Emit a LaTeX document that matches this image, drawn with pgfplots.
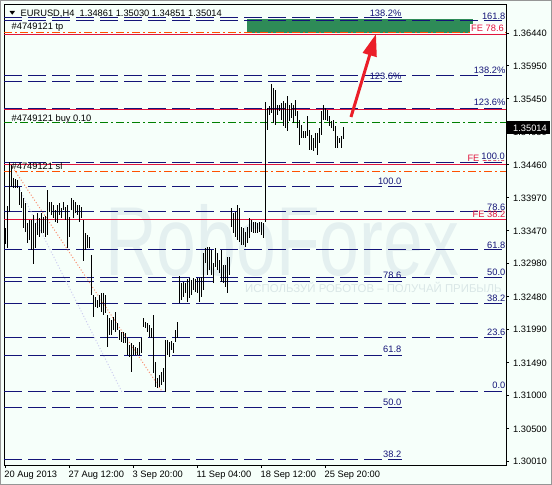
\documentclass[border=0pt]{standalone}
\usepackage{pgfplots}
\pgfplotsset{compat=1.18}
\usepackage{pgfplotstable}
\usepackage{fontspec}
\setmainfont{Liberation Sans}
\usetikzlibrary{arrows.meta}
\definecolor{bg}{RGB}{246,255,250}
\definecolor{fibnavy}{RGB}{20,20,120}
\definecolor{fered}{RGB}{225,20,60}
\definecolor{tporange}{RGB}{255,80,0}
\definecolor{buygreen}{RGB}{0,128,0}
\definecolor{boxgreen}{RGB}{46,139,87}
\definecolor{arrowred}{RGB}{235,30,40}
\definecolor{wm}{RGB}{228,240,240}
\definecolor{wmsub}{RGB}{218,231,231}
\definecolor{framegray}{RGB}{150,150,150}
\definecolor{salmonc}{RGB}{250,140,110}
\definecolor{lav}{RGB}{205,205,240}
\newcommand\f{\fontsize{9.3bp}{11bp}\selectfont}

\pgfplotstableread{
i lo hi
0 1.33265 1.33515
1 1.33205 1.33841
2 1.33755 1.34497
3 1.34131 1.34457
4 1.34116 1.34257
5 1.34107 1.34247
6 1.34107 1.34231
7 1.33856 1.34131
8 1.33806 1.34056
9 1.33515 1.33957
10 1.33446 1.33881
11 1.33280 1.33581
12 1.33330 1.33630
13 1.33180 1.33630
14 1.32965 1.33706
15 1.33205 1.33581
16 1.33405 1.33731
17 1.33380 1.33656
18 1.33431 1.33731
19 1.33431 1.33680
20 1.33380 1.33695
21 1.33405 1.34081
22 1.33755 1.33906
23 1.33706 1.33906
24 1.33656 1.33856
25 1.33605 1.33781
26 1.33581 1.33856
27 1.33706 1.33881
28 1.33665 1.33815
29 1.33781 1.33896
30 1.33630 1.33830
31 1.33205 1.33856
32 1.33380 1.33680
33 1.33781 1.33966
34 1.33656 1.33931
35 1.33731 1.33906
36 1.33706 1.33856
37 1.33605 1.33856
38 1.33656 1.33830
39 1.33015 1.33630
40 1.33180 1.33431
41 1.33214 1.33405
42 1.33205 1.33380
43 1.32504 1.33105
44 1.32178 1.32504
45 1.32328 1.32478
46 1.32304 1.32429
47 1.32328 1.32504
48 1.32253 1.32529
49 1.32203 1.32529
50 1.32229 1.32504
51 1.31727 1.32203
52 1.31903 1.32154
53 1.31903 1.32128
54 1.31978 1.32178
55 1.31953 1.32253
56 1.31978 1.32079
57 1.31828 1.31978
58 1.31802 1.31953
59 1.31778 1.31953
60 1.31778 1.31928
61 1.31602 1.31853
62 1.31577 1.31753
63 1.31352 1.31778
64 1.31602 1.31753
65 1.31602 1.31727
66 1.31602 1.31703
67 1.31602 1.31802
68 1.31628 1.31853
69 1.32028 1.32154
70 1.32004 1.32103
71 1.31953 1.32079
72 1.31877 1.32053
73 1.31853 1.32004
74 1.31328 1.32203
75 1.31126 1.31502
76 1.31102 1.31252
77 1.31126 1.31302
78 1.31152 1.31352
79 1.31201 1.31403
80 1.31051 1.31828
81 1.31602 1.31828
82 1.31577 1.31802
83 1.31678 1.31813
84 1.31628 1.31778
85 1.31798 1.31978
86 1.31858 1.32098
87 1.32384 1.32789
88 1.32429 1.32689
89 1.32478 1.32704
90 1.32529 1.32680
91 1.32403 1.32740
92 1.32454 1.32755
93 1.32504 1.32729
94 1.32579 1.32755
95 1.32553 1.32740
96 1.32529 1.32755
97 1.32403 1.32755
98 1.32478 1.32779
99 1.32579 1.33130
100 1.32980 1.33205
101 1.32804 1.33229
102 1.32879 1.33220
103 1.32804 1.33180
104 1.32680 1.32980
105 1.32929 1.33205
106 1.32879 1.33130
107 1.32830 1.33030
108 1.32704 1.33180
109 1.32680 1.32954
110 1.32629 1.32954
111 1.32529 1.33079
112 1.32804 1.33079
113 1.33530 1.33806
114 1.33431 1.33731
115 1.33380 1.33755
116 1.33330 1.33856
117 1.33305 1.33806
118 1.33255 1.33530
119 1.33255 1.33506
120 1.33230 1.33455
121 1.33280 1.33530
122 1.33356 1.33656
123 1.33455 1.33630
124 1.33431 1.33605
125 1.33431 1.33605
126 1.33431 1.33581
127 1.33455 1.33605
128 1.33405 1.33605
129 1.33356 1.33581
130 1.33600 1.35403
131 1.34987 1.35313
132 1.35213 1.35339
133 1.35238 1.35674
134 1.35088 1.35614
135 1.35062 1.35588
136 1.35213 1.35363
137 1.35264 1.35363
138 1.35137 1.35388
139 1.35038 1.35414
140 1.35013 1.35388
141 1.34963 1.35489
142 1.35113 1.35363
143 1.35163 1.35388
144 1.35088 1.35363
145 1.35188 1.35438
146 1.35013 1.35264
147 1.34762 1.35137
148 1.34862 1.35062
149 1.34862 1.34963
150 1.34862 1.34963
151 1.34888 1.35188
152 1.34687 1.34987
153 1.34687 1.34912
154 1.34663 1.34862
155 1.34712 1.34938
156 1.34612 1.34938
157 1.34787 1.35013
158 1.34912 1.35264
159 1.35137 1.35363
160 1.35137 1.35313
161 1.35113 1.35288
162 1.35038 1.35188
163 1.35013 1.35113
164 1.34963 1.35137
165 1.34712 1.35038
166 1.34712 1.34888
167 1.34787 1.34862
168 1.34712 1.34888
169 1.34851 1.35030
}\bars

\newcommand\hl[3]{\addplot[#1] coordinates {(-0.65,#2) (#3,#2)};}
\newcommand\rlab[4]{\node[anchor=base east, inner sep=0pt, text=#3, font=\f] at ({#1},{485-#2}) {#4};}

\begin{document}
\begin{tikzpicture}
\begin{scope}[x=1bp,y=1bp]
\fill[bg] (0,0) rectangle (552,485);
\node[anchor=base west, text=wm, font=\fontsize{98bp}{100bp}\selectfont, inner sep=0pt, xscale=0.73] at (105,210) {RoboForex};
\node[anchor=base west, text=wmsub, font=\fontsize{11.4bp}{13bp}\selectfont, inner sep=0pt] at (245,193) {ИСПОЛЬЗУЙ РОБОТОВ – ПОЛУЧАЙ ПРИБЫЛЬ};
\end{scope}
\begin{axis}[at={(4bp,20bp)}, anchor=south west, scale only axis, width=502bp, height=460bp,
  xmin=-0.65, xmax=250.35, ymin=1.29950, ymax=1.36860,
  axis line style={black, line width=1bp},
  xtick={0,32,64,96,128,160}, xticklabels={,,,,,},
  ytick={1.30010,1.30500,1.31000,1.31490,1.31990,1.32480,1.32980,1.33470,1.33970,1.34460,1.34950,1.35450,1.35950,1.36440},
  yticklabels={,,,,,,,,,,,,,}, scaled y ticks=false,
  xtick pos=bottom, ytick pos=right, tick align=outside, major tick length=3bp,
  tick style={black, line width=0.8bp},
  clip mode=individual,
]
\fill[boxgreen] (axis cs:120.85,1.36440) rectangle (axis cs:233.85,1.36650);
% fibo set 1 (to right edge)
\hl{fibnavy, line width=1bp, dash pattern=on 18bp off 6bp}{1.36625}{250.35}
\hl{fibnavy, line width=1bp, dash pattern=on 18bp off 6bp}{1.35794}{250.35}
\hl{fibnavy, line width=1bp, dash pattern=on 18bp off 6bp}{1.35309}{250.35}
\hl{fibnavy, line width=1bp, dash pattern=on 18bp off 6bp}{1.34491}{250.35}
\hl{fibnavy, line width=1bp, dash pattern=on 18bp off 6bp}{1.33751}{250.35}
\hl{fibnavy, line width=1bp, dash pattern=on 18bp off 6bp}{1.33180}{250.35}
\hl{fibnavy, line width=1bp, dash pattern=on 18bp off 6bp}{1.32774}{250.35}
\hl{fibnavy, line width=1bp, dash pattern=on 18bp off 6bp}{1.32369}{250.35}
\hl{fibnavy, line width=1bp, dash pattern=on 18bp off 6bp}{1.31868}{250.35}
\hl{fibnavy, line width=1bp, dash pattern=on 18bp off 6bp}{1.31057}{250.35}
% fibo set 2
\hl{fibnavy, line width=1bp, dash pattern=on 18bp off 6bp}{1.36665}{198.35}
\hl{fibnavy, line width=1bp, dash pattern=on 18bp off 6bp}{1.35708}{198.35}
\hl{fibnavy, line width=1bp, dash pattern=on 18bp off 6bp}{1.34137}{198.35}
\hl{fibnavy, line width=1bp, dash pattern=on 18bp off 6bp}{1.32710}{198.35}
\hl{fibnavy, line width=1bp, dash pattern=on 18bp off 6bp}{1.31598}{198.35}
\hl{fibnavy, line width=1bp, dash pattern=on 18bp off 6bp}{1.30817}{198.35}
\hl{fibnavy, line width=1bp, dash pattern=on 18bp off 6bp}{1.30036}{198.35}
% FE red
\hl{fered, line width=1bp}{1.36420}{250.35}
\hl{fered, line width=1bp}{1.35283}{250.35}
\hl{fered, line width=1bp}{1.34467}{250.35}
\hl{fered, line width=1bp}{1.33641}{250.35}
% order lines
\hl{tporange, line width=1bp, dash pattern=on 8bp off 3bp on 2bp off 3bp}{1.36450}{250.35}
\hl{tporange, line width=1bp, dash pattern=on 8bp off 3bp on 2bp off 3bp}{1.34356}{250.35}
\hl{buygreen, line width=1bp, dash pattern=on 8bp off 3bp on 2bp off 3bp}{1.35088}{250.35}
% dotted trend lines
\addplot[salmonc, line width=1bp, dash pattern=on 1bp off 2bp] coordinates {(2,1.34497) (78.35,1.31057)};
\addplot[lav, line width=1bp, dash pattern=on 1bp off 2bp] coordinates {(7.35,1.34081) (58.35,1.31046)};
% bars
\addplot[draw=none, mark=none,
  error bars/.cd, y dir=both, y explicit, error mark=none,
  error bar style={draw=black, solid, line width=1bp}]
  table[x=i, y expr={(\thisrow{lo}+\thisrow{hi})/2}, y error expr={(\thisrow{hi}-\thisrow{lo})/2}] {\bars};
\end{axis}
\begin{scope}[x=1bp,y=1bp]
% header
\fill[black] (9.5,474) -- (15,474) -- (12.25,470.3) -- cycle;
\node[anchor=base west, inner sep=0pt, font=\f] at (20.5,468.3) {EURUSD,H4\ \ 1.34861 1.35030 1.34851 1.35014};
\node[anchor=base west, inner sep=0pt, font=\f] at (11.5,455.7) {\#4749121 tp};
\node[anchor=base west, inner sep=0pt, font=\f] at (11.5,364) {\#4749121 buy 0.10};
\node[anchor=base west, inner sep=0pt, font=\f] at (11.5,316) {\#4749121 sl};
% right labels, set 1
\rlab{505.5}{19.3}{fibnavy}{161.8}
\rlab{505.5}{73.3}{fibnavy}{138.2\%}
\rlab{505.5}{105}{fibnavy}{123.6\%}
\rlab{505.5}{161.7}{fered}{FE 100.0}
\node[anchor=base east, inner sep=0.6pt, fill=bg, text=fibnavy, font=\f] at (505.5,{485-159.5}) {100.0};
\rlab{505.5}{217}{fered}{FE 38.2}
\rlab{505.5}{210}{fibnavy}{78.6}
\rlab{505.5}{248.3}{fibnavy}{61.8}
\rlab{505.5}{275}{fibnavy}{50.0}
\rlab{505.5}{301.7}{fibnavy}{38.2}
\rlab{505.5}{335}{fibnavy}{23.6}
\rlab{505.5}{388.3}{fibnavy}{0.0}
\node[anchor=base east, inner xsep=1.5pt, inner ysep=1.2pt, fill=white, text=fered, font=\f] at (505.5,{485-32}) {FE 78.6};
% set 2 labels
\rlab{401.5}{16.7}{fibnavy}{138.2\%}
\rlab{401.5}{80}{fibnavy}{123.6\%}
\rlab{401.5}{184}{fibnavy}{100.0}
\rlab{401.5}{278.3}{fibnavy}{78.6}
\rlab{401.5}{352.7}{fibnavy}{61.8}
\rlab{401.5}{405}{fibnavy}{50.0}
\rlab{401.5}{457.3}{fibnavy}{38.2}
% arrow
\draw[arrowred, line width=3bp, -{Triangle[length=22bp, width=14bp]}] (351,368) -- (376,451);
% y tick labels
\foreach \yy/\lab in {33.0/1.36440, 65.6/1.35950, 98.9/1.35450, 132.2/1.34950, 164.8/1.34460, 197.4/1.33970, 230.7/1.33470, 263.3/1.32980, 296.6/1.32480, 329.2/1.31990, 362.5/1.31490, 395.1/1.31000, 428.4/1.30500, 461.0/1.30010}
  \node[anchor=base west, inner sep=0pt, font=\f] at (513,{485-\yy-3.6}) {\lab};
% current price
\fill[black] (507,{485-134}) rectangle (550,{485-121});
\node[anchor=base west, inner sep=0pt, font=\f, text=white] at (513,{485-131.4}) {1.35014};
% x tick labels
\node[anchor=base west, inner sep=0pt, font=\f] at (4.2,7.7) {20 Aug 2013};
\node[anchor=base west, inner sep=0pt, font=\f] at (68.5,7.7) {27 Aug 12:00};
\node[anchor=base west, inner sep=0pt, font=\f] at (132.5,7.7) {3 Sep 20:00};
\node[anchor=base west, inner sep=0pt, font=\f] at (196.5,7.7) {11 Sep 04:00};
\node[anchor=base west, inner sep=0pt, font=\f] at (260.5,7.7) {18 Sep 12:00};
\node[anchor=base west, inner sep=0pt, font=\f] at (324.5,7.7) {25 Sep 20:00};
\draw[framegray, line width=1bp] (0.5,0.5) rectangle (551.5,484.5);
\end{scope}
\pgfresetboundingbox
\path[use as bounding box] (0,0) rectangle (552bp,485bp);
\end{tikzpicture}
\end{document}
